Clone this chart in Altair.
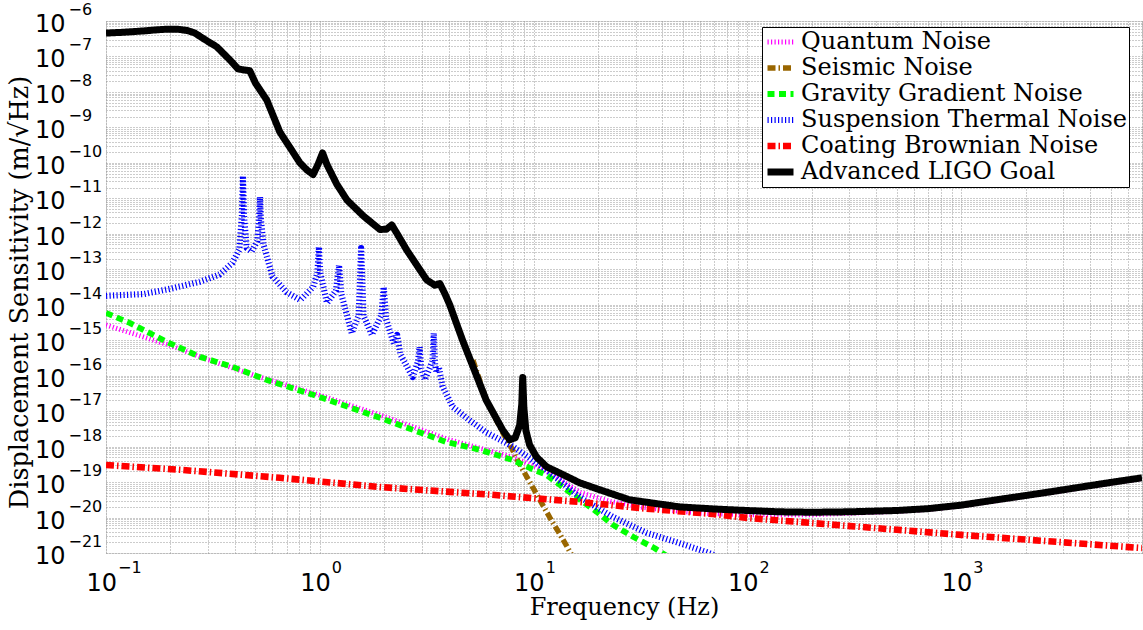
import altair as alt
import pandas as pd

# ---------------- data ----------------
quantum_f = [0.1, 0.2, 0.3, 0.5, 1.0, 2.0, 4.0, 8.0, 11.5, 16.6, 23, 33, 60, 100, 200, 300, 500, 700,
             1000, 1500, 2000, 2576, 4000, 5000, 7000]
quantum_v = [2.69e-15, 7.08e-16, 2.82e-16, 1.0e-16, 2.82e-17, 7.08e-18, 1.58e-18, 5.01e-19, 2.0e-19,
             5.01e-20, 2.82e-20, 1.91e-20, 1.32e-20, 1.2e-20, 1.2e-20, 1.32e-20, 1.5e-20, 1.7e-20,
             2.14e-20, 3.1e-20, 4.0e-20, 5.0e-20, 7.6e-20, 9.3e-20, 1.26e-19]

seismic_f = [5.2, 6.0, 7.16, 7.89, 8.34, 8.89, 9.8, 10.45, 11.9, 13.2, 14.3, 15.5]
seismic_v = [2.75e-16, 2.04e-17, 2.51e-18, 9.12e-19, 4.47e-19, 2.24e-19, 7.94e-20, 3.98e-20,
             1.0e-20, 3.55e-21, 1.55e-21, 6.31e-22]

gravity_f = [0.1, 0.129, 0.193, 0.275, 0.39, 0.565, 0.93, 1.91, 3.9, 5.6, 8.0, 9.57, 11.5, 14.7,
             19.7, 23.4, 29.3, 36.7, 45]
gravity_v = [5.89e-15, 3.09e-15, 8.91e-16, 3.39e-16, 1.78e-16, 7.59e-17, 2.88e-17, 6.46e-18, 1.35e-18,
             8.13e-19, 4.17e-19, 2.51e-19, 1.58e-19, 5.25e-20, 1.45e-20, 6.31e-21, 2.82e-21, 1.38e-21, 6.31e-22]

suspension_f = [0.1, 0.15, 0.2, 0.275, 0.34, 0.39, 0.42, 0.432, 0.437, 0.442, 0.455, 0.48, 0.51, 0.52,
                0.525, 0.53, 0.545, 0.6, 0.7, 0.81, 0.93, 0.975, 0.99, 1.005, 1.08, 1.19, 1.23, 1.26,
                1.41, 1.52, 1.56, 1.60, 1.75, 1.94, 1.99, 2.04, 2.22, 2.3, 2.38, 2.72, 2.88, 2.93, 2.98,
                3.1, 3.36, 3.41, 3.46, 3.52, 3.6, 3.75, 4.18, 5.0, 6.0, 8.0, 11.5, 16.4, 23.4, 33.7,
                48, 64, 80]
suspension_v = [1.78e-14, 2.0e-14, 2.82e-14, 4.47e-14, 7.08e-14, 1.51e-13, 3.55e-13, 3.16e-12, 4.27e-11,
                3.16e-12, 3.98e-13, 3.16e-13, 6.31e-13, 2.51e-12, 1.1e-11, 2.51e-12, 5.01e-13, 6.31e-14,
                2.24e-14, 1.35e-14, 3.16e-14, 7.94e-14, 4.27e-13, 7.94e-14, 1.12e-14, 2.51e-14, 1.32e-13,
                2.0e-14, 1.58e-15, 5.01e-15, 3.98e-13, 5.01e-15, 1.41e-15, 5.01e-15, 3.16e-14, 3.98e-15,
                7.94e-16, 1.41e-15, 3.98e-16, 9.12e-17, 2.51e-16, 6.46e-16, 1.58e-16, 7.59e-17, 2.51e-16,
                1.58e-15, 2.0e-16, 1.2e-16, 1.78e-16, 5.01e-17, 1.32e-17, 5.62e-18, 2.51e-18, 1.0e-18,
                2.19e-19, 3.8e-20, 1.05e-20, 3.72e-21, 1.91e-21, 1.07e-21, 6.31e-22]

coating_f = [0.1, 0.229, 0.65, 1.91, 6.4, 16.4, 33.7, 69, 100, 1000, 7000]
coating_v = [3.02e-19, 2.19e-19, 1.32e-19, 7.24e-20, 4.37e-20, 2.75e-20, 1.78e-20, 1.26e-20, 9.77e-21,
             3.24e-21, 1.38e-21]

goal_f = [0.1, 0.12, 0.15, 0.17, 0.19, 0.215, 0.24, 0.26, 0.29, 0.33, 0.38, 0.414, 0.44, 0.47, 0.5,
          0.565, 0.65, 0.74, 0.807, 0.87, 0.93, 0.98, 1.03, 1.08, 1.2, 1.34, 1.6, 1.91, 2.05, 2.17,
          2.3, 2.55, 3.16, 3.45, 3.64, 3.85, 4.05, 4.65, 6.0, 7.16, 7.73, 8.2, 8.6, 8.8, 8.89, 9.0,
          9.2, 9.57, 10.3, 11.5, 13.6, 16.4, 20, 28.1, 40, 48, 70, 99, 141, 200, 300, 500, 700, 1000,
          1500, 2000, 2576, 4000, 5000, 7000]
goal_v = [4.57e-7, 4.8e-7, 5.25e-7, 5.6e-7, 5.85e-7, 5.89e-7, 5.4e-7, 4.6e-7, 3.0e-7, 1.86e-7, 7.94e-8,
          4.47e-8, 4.17e-8, 3.98e-8, 1.78e-8, 5.89e-9, 7.41e-10, 2.24e-10, 1.0e-10, 6.31e-11, 4.68e-11,
          8.91e-11, 1.91e-10, 8.91e-11, 2.51e-11, 8.91e-12, 3.16e-12, 1.32e-12, 1.35e-12, 1.78e-12,
          1.0e-12, 3.47e-13, 5.01e-14, 3.55e-14, 3.98e-14, 2.0e-14, 1.0e-14, 1.0e-15, 2.04e-17,
          2.95e-18, 1.55e-18, 1.78e-18, 3.98e-18, 1.58e-17, 8.91e-17, 1.26e-17, 2.82e-18, 1.12e-18,
          5.13e-19, 2.69e-19, 1.66e-19, 9.55e-20, 6.3e-20, 3.16e-20, 2.34e-20, 2.0e-20, 1.74e-20,
          1.58e-20, 1.45e-20, 1.41e-20, 1.45e-20, 1.58e-20, 1.78e-20, 2.24e-20, 3.24e-20, 4.17e-20,
          5.25e-20, 7.94e-20, 9.77e-20, 1.32e-19]

series_names = ["Quantum Noise", "Seismic Noise", "Gravity Gradient Noise",
                "Suspension Thermal Noise", "Coating Brownian Noise", "Advanced LIGO Goal"]
series_f = [quantum_f, seismic_f, gravity_f, suspension_f, coating_f, goal_f]
series_v = [quantum_v, seismic_v, gravity_v, suspension_v, coating_v, goal_v]

colors = ["#ff00ff", "#996600", "#00ff00", "#0000ff", "#ff0000", "#000000"]
dashes = [[1.2, 2.3], [8, 3, 1.5, 3], [7, 4.5], [1.2, 2.3], [8, 3, 1.5, 3], [1, 0]]
widths = [5, 7, 7, 6, 7, 10]

# grid/tick positions
x_grid = [0.1, 0.2, 0.3, 0.4, 0.5, 0.6, 0.7, 0.8, 0.9,
          1, 2, 3, 4, 5, 6, 7, 8, 9,
          10, 20, 30, 40, 50, 60, 70, 80, 90,
          100, 200, 300, 400, 500, 600, 700, 800, 900,
          1000, 2000, 3000, 4000, 5000, 6000, 7000]
y_decades = [1e-6, 1e-7, 1e-8, 1e-9, 1e-10, 1e-11, 1e-12, 1e-13, 1e-14, 1e-15, 1e-16,
             1e-17, 1e-18, 1e-19, 1e-20, 1e-21]
y_exps = ["−6", "−7", "−8", "−9", "−10", "−11", "−12", "−13", "−14", "−15", "−16",
          "−17", "−18", "−19", "−20", "−21"]
y_grid = [m * d for d in y_decades[1:] for m in range(1, 10)] + [1e-6]
x_ticks = [0.1, 1, 10, 100, 1000]
x_exps = ["−1", "0", "1", "2", "3"]

# ---------------- build chart ----------------
rows = []
for name, fs, vs in zip(series_names, series_f, series_v):
    for f, v in zip(fs, vs):
        rows.append({"series": name, "freq": f, "val": v})
df = pd.DataFrame(rows)

W, H = 1036, 532
xscale = alt.Scale(type="log", domain=[0.1, 7000])
yscale = alt.Scale(type="log", domain=[1e-21, 1e-6])

grid_style = dict(grid=True, labels=False, ticks=False, domain=False,
                  gridColor="#999999", gridDash=[1, 2], gridWidth=1, gridOpacity=1)
xaxis = alt.Axis(values=x_grid, title="Frequency (Hz)", titleFont="DejaVu Serif",
                 titleFontSize=24, titleFontWeight="normal", titleColor="black",
                 titleY=61, titleBaseline="alphabetic", **grid_style)
yaxis = alt.Axis(values=y_grid, title="Displacement Sensitivity (m/√Hz)", titleFont="DejaVu Serif",
                 titleFontSize=25.5, titleFontWeight="normal", titleColor="black",
                 titleX=-79, titleY=271, titleAngle=270, titleBaseline="alphabetic", **grid_style)

legend = alt.Legend(title=None, orient="none", legendX=656, legendY=6,
                    fillColor="white", strokeColor="black", padding=2, rowPadding=0, clipHeight=26,
                    labelFont="DejaVu Serif", labelFontSize=24, labelColor="black",
                    labelLimit=500, labelOffset=4, symbolType="stroke", symbolSize=676)

layers = []
for name in series_names:
    layers.append(
        alt.Chart(df).transform_filter(alt.datum.series == name)
        .mark_line(clip=True, strokeJoin="round")
        .encode(
            x=alt.X("freq:Q", scale=xscale, axis=xaxis),
            y=alt.Y("val:Q", scale=yscale, axis=yaxis),
            color=alt.Color("series:N", scale=alt.Scale(domain=series_names, range=colors), legend=legend),
            strokeDash=alt.StrokeDash("series:N", scale=alt.Scale(domain=series_names, range=dashes), legend=legend),
            strokeWidth=alt.StrokeWidth("series:N", scale=alt.Scale(domain=series_names, range=widths), legend=legend),
            order=alt.Order("freq:Q"),
        )
    )

ydf = pd.DataFrame({"val": y_decades, "exp": y_exps})
xdf = pd.DataFrame({"freq": x_ticks, "exp": x_exps})

y_base = alt.Chart(ydf).mark_text(align="left", baseline="alphabetic", dy=11, font="DejaVu Sans",
                                  fontSize=24, color="black", text="10").encode(
    x=alt.value(-71), y=alt.Y("val:Q", scale=yscale, axis=yaxis))
y_exp = alt.Chart(ydf).mark_text(align="left", baseline="alphabetic", dy=-6, font="DejaVu Sans",
                                 fontSize=16, color="black").encode(
    x=alt.value(-37.5), y=alt.Y("val:Q", scale=yscale, axis=yaxis), text="exp:N")
x_base = alt.Chart(xdf).mark_text(align="right", baseline="alphabetic", dx=11, font="DejaVu Sans",
                                  fontSize=24, color="black", text="10").encode(
    x=alt.X("freq:Q", scale=xscale, axis=xaxis), y=alt.value(H + 38))
x_exp = alt.Chart(xdf).mark_text(align="left", baseline="alphabetic", dx=12, font="DejaVu Sans",
                                 fontSize=16, color="black").encode(
    x=alt.X("freq:Q", scale=xscale, axis=xaxis), y=alt.value(H + 20), text="exp:N")

chart = alt.layer(*layers, y_base, y_exp, x_base, x_exp).properties(
    width=W, height=H,
    padding={"left": 106, "top": 21, "right": 1, "bottom": 77},
    autosize=alt.AutoSizeParams(type="none"),
).configure_view(stroke="black", strokeWidth=1.5).configure(background="white")

chart.save("out.html", embed_options={"renderer": "svg", "actions": False})
